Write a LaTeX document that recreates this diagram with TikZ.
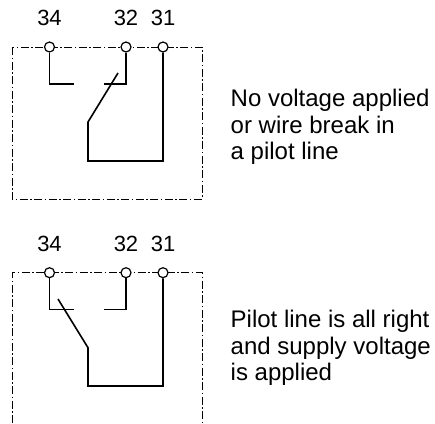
\documentclass[tikz,border=0pt]{standalone}
\usepackage{fontspec}
\setmainfont{Liberation Sans}
\usetikzlibrary{positioning}

\begin{document}
\begin{tikzpicture}[x=1pt, y=-1pt]
    % settings
    \tikzstyle{terminal} = [circle, draw=black, fill=white, line width=1.2pt, minimum size=10pt, inner sep=0pt]
    \tikzstyle{wire} = [line width=1.6pt, line join=miter]
    \tikzstyle{frame} = [line width=1pt, dash pattern=on 8pt off 2.5pt on 1.5pt off 2.5pt]
    \tikzstyle{termlabel} = [inner sep=0pt, font=\fontsize{22}{24}\selectfont]
    \tikzstyle{note} = [inner sep=0pt, align=left, font=\fontsize{24}{26.5}\selectfont]

    \useasboundingbox (0,0) rectangle (435,423);

    % 1. upper contact (no voltage)
    \draw[frame] (12.3,47) rectangle (202,199);

    \node[terminal] (a34) at (49.5,47) {};
    \node[terminal] (a32) at (126,47) {};
    \node[terminal] (a31) at (163,47) {};
    \node[termlabel, above=15pt of a34] (la34) {34};
    \node[termlabel, above=15pt of a32] (la32) {32};
    \node[termlabel, above=15pt of a31] (la31) {31};

    \coordinate (a34end) at (74,84);
    \coordinate (a32end) at (104,84);
    \coordinate (ablade) at (118,73);
    \coordinate (apivot) at (88,122);
    \coordinate (abottom) at (88,161);

    \draw[wire] (a34) |- (a34end);
    \draw[wire] (a32) |- (a32end);
    \draw[wire] (ablade) -- (apivot) -- (abottom) -| (a31);

    \node[note, anchor=north west] (anote) at (230.5,89) {No voltage applied\\or wire break in\\a pilot line};

    % 2. lower contact (supply voltage applied)
    \draw[frame] (12.3,423) -- (12.3,272.7) -- (202,272.7) -- (202,423);

    \node[terminal] (b34) at (49.5,272.7) {};
    \node[terminal] (b32) at (126,272.7) {};
    \node[terminal] (b31) at (163,272.7) {};
    \node[termlabel, above=15pt of b34] (lb34) {34};
    \node[termlabel, above=15pt of b32] (lb32) {32};
    \node[termlabel, above=15pt of b31] (lb31) {31};

    \coordinate (b34end) at (74,309.5);
    \coordinate (b32end) at (104,309.5);
    \coordinate (bblade) at (58,299);
    \coordinate (bpivot) at (88,347.7);
    \coordinate (bbottom) at (88,386);

    \draw[wire] (b34) |- (b34end);
    \draw[wire] (b32) |- (b32end);
    \draw[wire] (bblade) -- (bpivot) -- (bbottom) -| (b31);

    \node[note, anchor=north west] (bnote) at (230.5,310) {Pilot line is all right\\and supply voltage\\is applied};
\end{tikzpicture}
\end{document}
